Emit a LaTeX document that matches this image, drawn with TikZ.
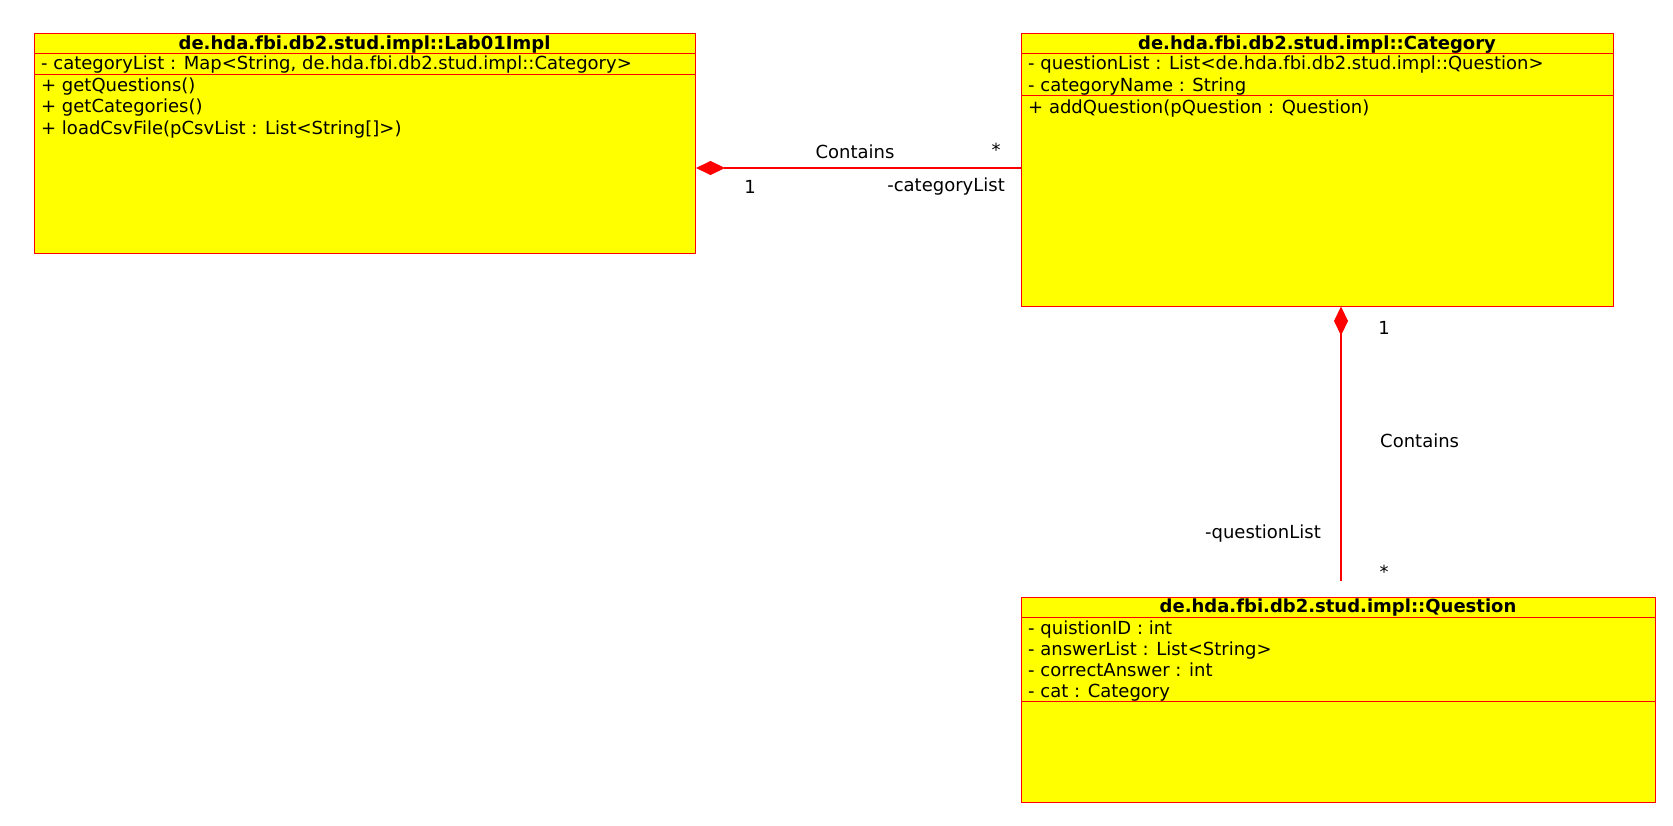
\documentclass[tikz,border=0pt]{standalone}
\usepackage{fontspec}
\setmainfont{DejaVu Sans}
\usetikzlibrary{arrows.meta}
\definecolor{umlred}{HTML}{FF0000}
\definecolor{umlyellow}{HTML}{FFFF00}
\tikzset{
  classbox/.style={draw=umlred, fill=umlyellow, line width=1pt, rectangle, inner sep=0pt, anchor=north west},
  sepline/.style={draw=umlred, line width=1pt},
  title/.style={font=\fontsize{18}{21}\selectfont\bfseries, inner sep=0pt, anchor=base},
  member/.style={font=\fontsize{18}{21}\selectfont, inner sep=0pt, anchor=base west},
  lbl/.style={font=\fontsize{18}{21}\selectfont, inner sep=0pt},
  assoc/.style={draw=umlred, line width=1.1pt},
  comptip/.style={{Diamond[length=29pt,width=14pt,fill=umlred]}-}
}
\begin{document}
\begin{tikzpicture}[x=1pt,y=-1pt]
\useasboundingbox (0,0) rectangle (1673,825);
% Lab01Impl
\node[classbox, minimum width=661pt, minimum height=220pt] (lab) at (34,32.5) {};
\draw[sepline] (34,53) -- (695,53);
\draw[sepline] (34,74.7) -- (695,74.7);
\node[title] (labt) at (364.5,49.3) {de.hda.fbi.db2.stud.impl::Lab01Impl};
\node[member] (laba1) at (41,69.7) {- categoryList : Map<String, de.hda.fbi.db2.stud.impl::Category>};
\node[member] (labm1) at (41,91.3) {+ getQuestions()};
\node[member] (labm2) at (41,112.5) {+ getCategories()};
\node[member] (labm3) at (41,134) {+ loadCsvFile(pCsvList : List<String[]>)};
% Category
\node[classbox, minimum width=592pt, minimum height=273pt] (cat) at (1021,32.5) {};
\draw[sepline] (1021,53) -- (1613,53);
\draw[sepline] (1021,95.7) -- (1613,95.7);
\node[title] (catt) at (1317,49.3) {de.hda.fbi.db2.stud.impl::Category};
\node[member] (cata1) at (1028,69.7) {- questionList : List<de.hda.fbi.db2.stud.impl::Question>};
\node[member] (cata2) at (1028,91) {- categoryName : String};
\node[member] (catm1) at (1028,113) {+ addQuestion(pQuestion : Question)};
% Question
\node[classbox, minimum width=634pt, minimum height=205.5pt] (que) at (1021,596.5) {};
\draw[sepline] (1021,617.3) -- (1655,617.3);
\draw[sepline] (1021,701.7) -- (1655,701.7);
\node[title] (quet) at (1338,612.7) {de.hda.fbi.db2.stud.impl::Question};
\node[member] (quea1) at (1028,634) {- quistionID : int};
\node[member] (quea2) at (1028,655) {- answerList : List<String>};
\node[member] (quea3) at (1028,676) {- correctAnswer : int};
\node[member] (quea4) at (1028,697.3) {- cat : Category};
% connectors
\coordinate (hrow) at (0,168);
\coordinate (vcol) at (1341,0);
\coordinate (qend) at (1341,581);
\draw[assoc, comptip] (lab.east |- hrow) -- (cat.west |- hrow);
\draw[assoc, comptip] (cat.south -| vcol) -- (qend);
% labels
\node[lbl] (l1) at (855,151.5) {Contains};
\node[lbl] (l2) at (996,150) {*};
\node[lbl] (l3) at (750,187) {1};
\node[lbl, anchor=east] (l4) at (1005,187) {-categoryList};
\node[lbl] (l5) at (1384,328) {1};
\node[lbl, anchor=west] (l6) at (1380,441) {Contains};
\node[lbl, anchor=east] (l7) at (1321,534) {-questionList};
\node[lbl] (l8) at (1384,572) {*};
\end{tikzpicture}
\end{document}
